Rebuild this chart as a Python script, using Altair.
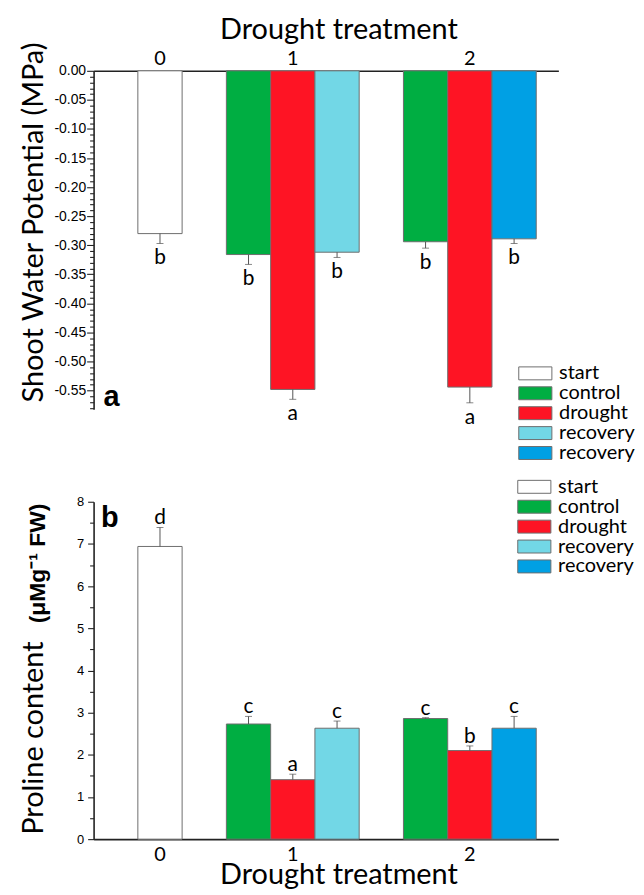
import altair as alt
import pandas as pd

# ---------------- data ----------------
treatment = ["0", "1", "1", "1", "2", "2", "2"]
condition = ["start", "control", "drought", "recovery", "control", "drought", "recovery"]
swp_mean = [-0.280, -0.316, -0.548, -0.312, -0.294, -0.544, -0.289]
swp_err = [0.017, 0.017, 0.017, 0.009, 0.011, 0.027, 0.008]
swp_letter = ["b", "b", "a", "b", "b", "a", "b"]
proline_mean = [6.94, 2.73, 1.41, 2.63, 2.86, 2.10, 2.63]
proline_err = [0.45, 0.18, 0.13, 0.17, 0.02, 0.11, 0.28]
proline_letter = ["d", "c", "a", "c", "c", "b", "c"]

legend_keys = ["start", "control", "drought", "recovery 1", "recovery 2"]
legend_colors = ["#ffffff", "#00ae42", "#fe1424", "#72d7e6", "#00a0e4"]
slot_order = ["0|start", "gap 0-1", "1|control", "1|drought", "1|recovery",
              "gap 1-2", "2|control", "2|drought", "2|recovery"]

df = pd.DataFrame({
    "treatment": treatment, "condition": condition,
    "swp": swp_mean, "swp_err": swp_err, "swp_letter": swp_letter,
    "pro": proline_mean, "pro_err": proline_err, "pro_letter": proline_letter,
})
df["slot"] = df["treatment"] + "|" + df["condition"]
df["key"] = [c if c != "recovery" else f"recovery {t}" for c, t in zip(condition, treatment)]
df["swp_end"] = df["swp"] - df["swp_err"]
df["pro_end"] = df["pro"] + df["pro_err"]

FONT = "Lato"
TICKFONT = "Liberation Sans"
W = 467
BAR_STROKE = "#6e6e6e"
ERR = "#555555"
TITLE_X = -51

x_label_expr = ("datum.value == '0|start' ? '0' : datum.value == '1|drought' ? '1' : "
                "datum.value == '2|drought' ? '2' : ''")
x_scale = alt.Scale(domain=slot_order, paddingInner=0, paddingOuter=0.75, align=2 / 3)

color_scale = alt.Scale(domain=legend_keys, range=legend_colors)
legend_label_expr = "indexof(datum.label, 'recovery') == 0 ? 'recovery' : datum.label"


def make_legend(lx, ly):
    # 33 x 13 px box: unit = sqrt(169)/2 = 6.5 px
    return alt.Legend(
        title=None, orient="none", legendX=lx, legendY=ly, padding=0,
        symbolType="M-1,-1V1H4.12V-1Z", symbolSize=169,
        symbolStrokeColor=BAR_STROKE, symbolStrokeWidth=1, symbolOpacity=1,
        labelFont=FONT, labelFontSize=20, labelColor="black", labelOffset=24,
        rowPadding=0, labelExpr=legend_label_expr,
    )


# ---------------- panel a ----------------
ticks_a = [round(-i / 100, 2) for i in range(0, 59)]
major_a = "abs(round(datum.value*100)) % 5 === 0"
axis_ya = alt.Axis(
    title="Shoot Water Potential (MPa)", values=ticks_a,
    labelExpr=f"{major_a} ? replace(format(datum.value, '.2f'), '\u2212', '-') : ''",
    tickSize={"condition": {"test": major_a, "value": 7}, "value": 4},
    labelFont=TICKFONT, labelFontSize=14, labelColor="black", labelPadding=1,
    labelOverlap=False, labelFlush=False,
    domainColor="#222", domainWidth=1.6, tickColor="#222", tickWidth=1.1,
    titleFont=FONT, titleFontSize=29, titleFontWeight="normal", titleColor="black",
    titleAngle=270, titleBaseline="alphabetic", titleX=TITLE_X, titleY=152, grid=False,
)
axis_xa = alt.Axis(
    orient="top", title="Drought treatment", labelExpr=x_label_expr, ticks=False,
    labelAngle=0, labelFont=FONT, labelFontSize=20, labelColor="black", labelPadding=2,
    domainColor="#222", domainWidth=1.6,
    titleFont=FONT, titleFontSize=29, titleFontWeight="normal", titleColor="black",
    titlePadding=4, titleX=246,
)
ys_a = alt.Scale(domain=[-0.582, 0], nice=False)

base_a = alt.Chart(df).encode(x=alt.X("slot:N", scale=x_scale, axis=axis_xa))
bars_a = base_a.mark_bar(stroke=BAR_STROKE, strokeWidth=1).encode(
    y=alt.Y("swp:Q", scale=ys_a, axis=axis_ya),
    color=alt.Color("key:N", scale=color_scale, legend=make_legend(423.7, 294)),
)
err_a = base_a.mark_rule(color=ERR, strokeWidth=1).encode(
    y=alt.Y("swp:Q", scale=ys_a, axis=axis_ya), y2="swp_end:Q")
cap_a = base_a.mark_tick(color=ERR, thickness=1, size=7).encode(
    y=alt.Y("swp_end:Q", scale=ys_a, axis=axis_ya))
txt_a = base_a.mark_text(font=FONT, fontSize=21, dy=15, baseline="middle", color="black").encode(
    y=alt.Y("swp_end:Q", scale=ys_a, axis=axis_ya), text="swp_letter:N")
tag_a = alt.Chart(pd.DataFrame({"t": ["a"]})).mark_text(
    font=TICKFONT, fontSize=29, fontWeight="bold", align="left", baseline="alphabetic",
    color="black").encode(text="t:N", x=alt.value(10), y=alt.value(337))

panel_a = alt.layer(bars_a, err_a, cap_a, txt_a, tag_a).properties(width=W, height=340)

# ---------------- panel b ----------------
ticks_b = [i / 2 for i in range(0, 17)]
major_b = "datum.value % 1 === 0"
axis_yb = alt.Axis(
    title="Proline content", values=ticks_b,
    labelExpr=f"{major_b} ? format(datum.value, 'd') : ''",
    tickSize={"condition": {"test": major_b, "value": 6}, "value": 4},
    labelFont=TICKFONT, labelFontSize=13, labelColor="black", labelPadding=4,
    labelOverlap=False, labelFlush=False,
    domainColor="#222", domainWidth=1.6, tickColor="#222", tickWidth=1.1,
    titleFont=FONT, titleFontSize=29, titleFontWeight="normal", titleColor="black",
    titleAngle=270, titleBaseline="alphabetic", titleX=TITLE_X, titleY=237, grid=False,
)
axis_xb = alt.Axis(
    orient="bottom", title="Drought treatment", labelExpr=x_label_expr, ticks=False,
    labelAngle=0, labelFont=FONT, labelFontSize=20, labelColor="black", labelPadding=5,
    domainColor="#222", domainWidth=1.6,
    titleFont=FONT, titleFontSize=29, titleFontWeight="normal", titleColor="black",
    titlePadding=-3, titleX=246,
)
ys_b = alt.Scale(domain=[0, 8], nice=False)

base_b = alt.Chart(df).encode(x=alt.X("slot:N", scale=x_scale, axis=axis_xb))
bars_b = base_b.mark_bar(stroke=BAR_STROKE, strokeWidth=1).encode(
    y=alt.Y("pro:Q", scale=ys_b, axis=axis_yb),
    color=alt.Color("key:N", scale=color_scale, legend=make_legend(422.7, -25)),
)
err_b = base_b.mark_rule(color=ERR, strokeWidth=1).encode(
    y=alt.Y("pro:Q", scale=ys_b, axis=axis_yb), y2="pro_end:Q")
cap_b = base_b.mark_tick(color=ERR, thickness=1, size=7).encode(
    y=alt.Y("pro_end:Q", scale=ys_b, axis=axis_yb))
txt_b = base_b.mark_text(font=FONT, fontSize=21, dy=-3, baseline="alphabetic", color="black").encode(
    y=alt.Y("pro_end:Q", scale=ys_b, axis=axis_yb), text="pro_letter:N")
tag_b = alt.Chart(pd.DataFrame({"t": ["b"]})).mark_text(
    font=TICKFONT, fontSize=29, fontWeight="bold", align="left", baseline="alphabetic",
    color="black").encode(text="t:N", x=alt.value(7.4), y=alt.value(25.3))
unit_b = alt.Chart(pd.DataFrame({"t": ["(\u03bcMg\u207b\u00b9 FW)"]})).mark_text(
    font=TICKFONT, fontSize=23, fontWeight="bold", angle=270, align="center",
    baseline="alphabetic", color="black").encode(text="t:N", x=alt.value(TITLE_X + 2), y=alt.value(62))

panel_b = alt.layer(bars_b, err_b, cap_b, txt_b, tag_b, unit_b).properties(width=W, height=339)

chart = (
    alt.vconcat(panel_a, panel_b, spacing=93, bounds="flush")
    .resolve_legend(color="independent")
    .properties(padding={"left": 11, "top": 6, "right": 0, "bottom": 0}, background="white")
    .configure_view(stroke=None)
)

chart.save("out.html", embed_options={"renderer": "svg", "actions": False})
